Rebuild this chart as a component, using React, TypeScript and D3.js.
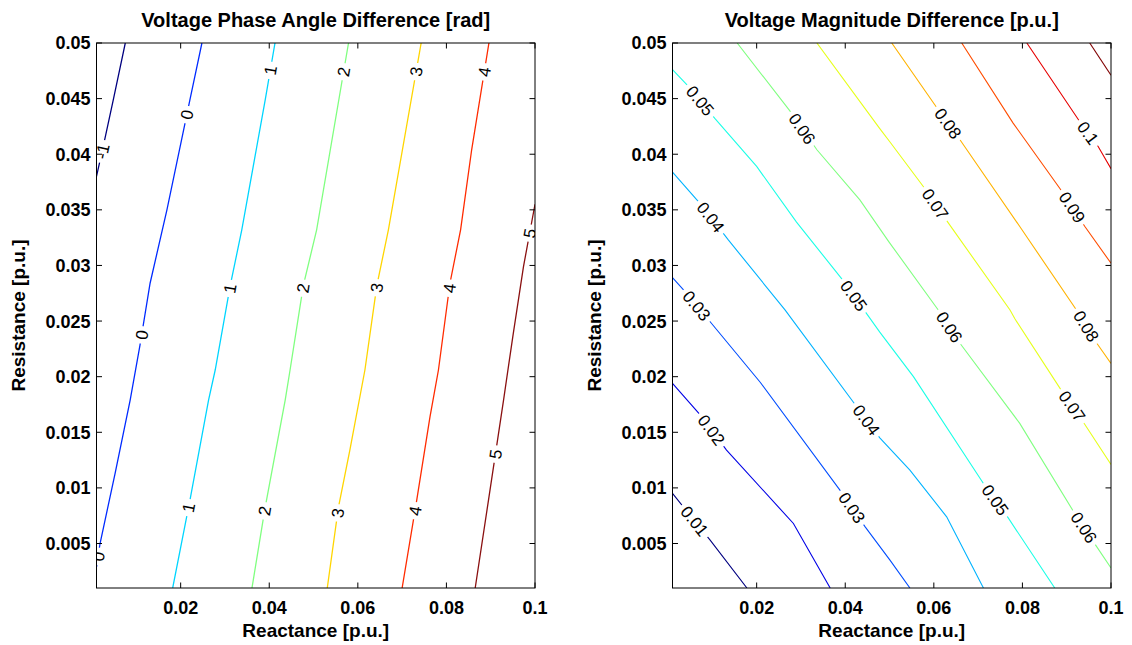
import React from 'react';
import * as d3 from 'd3';

const W = 1132;
const H = 645;

const xTickValues = [0.02, 0.04, 0.06, 0.08, 0.1];
const xTickLabels = ['0.02', '0.04', '0.06', '0.08', '0.1'];
const yTickValues = [0.005, 0.01, 0.015, 0.02, 0.025, 0.03, 0.035, 0.04, 0.045, 0.05];
const yTickLabels = ['0.005', '0.01', '0.015', '0.02', '0.025', '0.03', '0.035', '0.04', '0.045', '0.05'];

// Left panel: Voltage phase angle difference (rad)
const phaseLevels = [-1, 0, 1, 2, 3, 4, 5];
const phaseLevelText = ['-1', '0', '1', '2', '3', '4', '5'];
const phaseColors = ['#000080', '#002bff', '#00d5ff', '#80ff80', '#ffd500', '#ff2b00', '#8a1010'];
const phaseLines: [number, number][][] = [
  [[0.001, 0.038], [0.0029, 0.0414], [0.0048, 0.0449], [0.0075, 0.05]],
  [[0.001, 0.0029], [0.0018, 0.005], [0.0052, 0.0113], [0.0086, 0.0179], [0.0108, 0.0228], [0.0131, 0.0284], [0.0169, 0.035], [0.0221, 0.0449], [0.0248, 0.05]],
  [[0.0182, 0.001], [0.0221, 0.0089], [0.0263, 0.0179], [0.0278, 0.0206], [0.0312, 0.0282], [0.0338, 0.0332], [0.0391, 0.0449], [0.0413, 0.05]],
  [[0.0361, 0.001], [0.0391, 0.0083], [0.0436, 0.0179], [0.0447, 0.0206], [0.0477, 0.0282], [0.0507, 0.0332], [0.0579, 0.05]],
  [[0.0531, 0.001], [0.0556, 0.0082], [0.0582, 0.0134], [0.0616, 0.0206], [0.0643, 0.0282], [0.0669, 0.0332], [0.0743, 0.05]],
  [[0.07, 0.001], [0.0733, 0.0089], [0.0763, 0.0164], [0.0782, 0.0206], [0.0808, 0.0284], [0.0832, 0.0332], [0.0857, 0.0404], [0.0896, 0.05]],
  [[0.0865, 0.001], [0.0895, 0.0089], [0.0929, 0.0179], [0.0951, 0.0239], [0.0974, 0.0299], [0.1, 0.0355]],
];
// [level index, x, y]
const phaseLabels: [number, number, number][] = [
  [0, 0.0029, 0.0402],
  [1, 0.0221, 0.0435], [1, 0.012, 0.0237], [1, 0.0022, 0.0038],
  [2, 0.0409, 0.0475], [2, 0.0315, 0.0279], [2, 0.0221, 0.0082],
  [3, 0.057, 0.0474], [3, 0.0485, 0.0279], [3, 0.0394, 0.0079],
  [4, 0.0736, 0.0474], [4, 0.0658, 0.0279], [4, 0.0564, 0.0077],
  [5, 0.0901, 0.0473], [5, 0.0817, 0.0279], [5, 0.0736, 0.0079],
  [6, 0.0989, 0.0329], [6, 0.0917, 0.013],
];

// Right panel: Voltage magnitude difference (p.u.)
const magLevels = [0.01, 0.02, 0.03, 0.04, 0.05, 0.06, 0.07, 0.08, 0.09, 0.1, 0.11];
const magLevelText = ['0.01', '0.02', '0.03', '0.04', '0.05', '0.06', '0.07', '0.08', '0.09', '0.1', '0.11'];
const magColors = ['#000080', '#0000e6', '#004dff', '#00b3ff', '#1affe6', '#80ff80', '#e6ff1a', '#ffb300', '#ff4d00', '#e60000', '#800000'];
const magLines: [number, number][][] = [
  [[0.001, 0.0095], [0.0095, 0.0053], [0.0178, 0.001]],
  [[0.001, 0.0194], [0.0076, 0.0164], [0.0132, 0.0134], [0.0283, 0.0068], [0.0366, 0.001]],
  [[0.001, 0.0289], [0.0042, 0.0275], [0.0102, 0.0246], [0.0208, 0.0195], [0.0388, 0.0098], [0.0445, 0.0065], [0.0501, 0.0035], [0.0546, 0.001]],
  [[0.001, 0.0384], [0.0076, 0.0354], [0.0136, 0.0323], [0.0264, 0.026], [0.0279, 0.0252], [0.0426, 0.0173], [0.0478, 0.0145], [0.0546, 0.0116], [0.0629, 0.0074], [0.0712, 0.001]],
  [[0.001, 0.0476], [0.0046, 0.0461], [0.0106, 0.0432], [0.02, 0.0389], [0.029, 0.0339], [0.0394, 0.0287], [0.0478, 0.024], [0.0554, 0.02], [0.0712, 0.0104], [0.0768, 0.0073], [0.0873, 0.001]],
  [[0.0156, 0.05], [0.0275, 0.0439], [0.0336, 0.0404], [0.0433, 0.0359], [0.0499, 0.0321], [0.061, 0.026], [0.0659, 0.023], [0.0794, 0.0158], [0.0915, 0.0079], [0.0968, 0.0047], [0.1, 0.0028]],
  [[0.0336, 0.05], [0.0478, 0.0423], [0.0501, 0.0411], [0.058, 0.0369], [0.0633, 0.0338], [0.0772, 0.026], [0.0783, 0.0252], [0.0889, 0.0187], [0.0941, 0.0157], [0.1, 0.0121]],
  [[0.0505, 0.05], [0.061, 0.044], [0.0659, 0.0413], [0.0794, 0.0335], [0.0922, 0.026], [0.0968, 0.023], [0.1, 0.0212]],
  [[0.0663, 0.05], [0.0779, 0.0428], [0.0885, 0.0369], [0.0941, 0.0335], [0.1, 0.0302]],
  [[0.081, 0.05], [0.093, 0.0429], [0.0971, 0.0407], [0.1, 0.0387]],
  [[0.0952, 0.05], [0.1, 0.0471]],
];
const magLabels: [number, number, number][] = [
  [0, 0.0053, 0.0068],
  [1, 0.0087, 0.0149],
  [2, 0.0065, 0.0264], [2, 0.0407, 0.008],
  [3, 0.0095, 0.0343], [3, 0.0437, 0.0158],
  [4, 0.0072, 0.0448], [4, 0.0413, 0.0271], [4, 0.0738, 0.0089],
  [5, 0.0299, 0.0422], [5, 0.0629, 0.0243], [5, 0.093, 0.0062],
  [6, 0.0599, 0.0354], [6, 0.0907, 0.0172],
  [7, 0.0623, 0.0425], [7, 0.0934, 0.0243],
  [8, 0.0907, 0.0351],
  [9, 0.0941, 0.0417],
];

const FONT = '"Liberation Sans", Arial, Helvetica, sans-serif';
const TOP = 43;
const BOTTOM = 588;
const PW = 438.5;

function textWidth(s: string, fs: number) {
  let w = 0;
  for (const c of s) {
    if (c === '.') w += 0.278;
    else if (c === '-') w += 0.333;
    else w += 0.556;
  }
  return w * fs;
}

type PanelProps = {
  id: string;
  left: number;
  title: string;
  lines: [number, number][][];
  colors: string[];
  levelText: string[];
  labels: [number, number, number][];
  strokeW: number;
};

function Panel({ id, left, title, lines, colors, levelText, labels, strokeW }: PanelProps) {
  const x = d3.scaleLinear().domain([0.001, 0.1]).range([left, left + PW]);
  const y = d3.scaleLinear().domain([0.001, 0.05]).range([BOTTOM, TOP]);
  const line = d3.line<[number, number]>().x((d) => x(d[0])).y((d) => y(d[1]));
  const right = left + PW;
  const cx = left + PW / 2;
  const tl = 5.5;
  const fsLab = 17;

  const labelEls = labels.map(([li, lx, ly], k) => {
    const pts = lines[li].map((p) => [x(p[0]), y(p[1])]);
    const px = x(lx);
    const py = y(ly);
    let best = { d: Infinity, qx: px, qy: py, ang: 0 };
    for (let i = 0; i < pts.length - 1; i++) {
      const [ax, ay] = pts[i];
      const [bx, by] = pts[i + 1];
      const vx = bx - ax;
      const vy = by - ay;
      let t = ((px - ax) * vx + (py - ay) * vy) / (vx * vx + vy * vy);
      t = Math.max(0, Math.min(1, t));
      const qx = ax + t * vx;
      const qy = ay + t * vy;
      const d = (qx - px) ** 2 + (qy - py) ** 2;
      if (d < best.d) {
        let ang = (Math.atan2(vy, vx) * 180) / Math.PI;
        if (ang > 90) ang -= 180;
        if (ang <= -90) ang += 180;
        best = { d, qx, qy, ang };
      }
    }
    const txt = levelText[li];
    const w = textWidth(txt, fsLab) + 8;
    return (
      <g key={k} transform={`translate(${best.qx},${best.qy}) rotate(${best.ang})`}>
        <rect x={-w / 2} y={-6} width={w} height={12} fill="#fff" />
        <text textAnchor="middle" dy="0.36em" fontSize={fsLab} fontFamily={FONT} fill="#000">
          {txt}
        </text>
      </g>
    );
  });

  return (
    <g>
      <defs>
        <clipPath id={`clip-${id}`}>
          <rect x={left} y={TOP} width={PW} height={BOTTOM - TOP} />
        </clipPath>
      </defs>
      <rect x={left} y={TOP} width={PW} height={BOTTOM - TOP} fill="#fff" />
      <g clipPath={`url(#clip-${id})`}>
        {lines.map((l, i) => (
          <path key={i} d={line(l) || ''} fill="none" stroke={colors[i]} strokeWidth={strokeW} />
        ))}
        {labelEls}
      </g>
      <rect x={left} y={TOP} width={PW} height={BOTTOM - TOP} fill="none" stroke="#000" strokeWidth={1} />
      {xTickValues.map((v, i) => (
        <g key={`xt${i}`}>
          <line x1={x(v)} x2={x(v)} y1={BOTTOM} y2={BOTTOM - tl} stroke="#000" />
          <line x1={x(v)} x2={x(v)} y1={TOP} y2={TOP + tl} stroke="#000" />
          <text x={x(v)} y={613.5} textAnchor="middle" fontSize={18} fontWeight="bold" fontFamily={FONT}>
            {xTickLabels[i]}
          </text>
        </g>
      ))}
      {yTickValues.map((v, i) => (
        <g key={`yt${i}`}>
          <line x1={left} x2={left + tl} y1={y(v)} y2={y(v)} stroke="#000" />
          <line x1={right} x2={right - tl} y1={y(v)} y2={y(v)} stroke="#000" />
          <text x={left - 6} y={y(v)} dy="0.36em" textAnchor="end" fontSize={18} fontWeight="bold" fontFamily={FONT}>
            {yTickLabels[i]}
          </text>
        </g>
      ))}
      <text x={cx} y={26.5} textAnchor="middle" fontSize={20} fontWeight="bold" fontFamily={FONT}>
        {title}
      </text>
      <text x={cx} y={637} textAnchor="middle" fontSize={19} fontWeight="bold" fontFamily={FONT}>
        Reactance [p.u.]
      </text>
      <text
        transform={`translate(${left - 72},${(TOP + BOTTOM) / 2}) rotate(-90)`}
        textAnchor="middle"
        fontSize={19}
        fontWeight="bold"
        fontFamily={FONT}
      >
        Resistance [p.u.]
      </text>
    </g>
  );
}

export default function App() {
  return (
    <svg
      width={W}
      height={H}
      style={{ position: 'absolute', left: 0, top: 0, background: '#fff' }}
      xmlns="http://www.w3.org/2000/svg"
    >
      <rect width={W} height={H} fill="#fff" />
      <Panel
        id="phase"
        left={96.5}
        title="Voltage Phase Angle Difference [rad]"
        lines={phaseLines}
        colors={phaseColors}
        levelText={phaseLevelText}
        labels={phaseLabels}
        strokeW={1.3}
      />
      <Panel
        id="mag"
        left={672.5}
        title="Voltage Magnitude Difference [p.u.]"
        lines={magLines}
        colors={magColors}
        levelText={magLevelText}
        labels={magLabels}
        strokeW={1.1}
      />
    </svg>
  );
}
